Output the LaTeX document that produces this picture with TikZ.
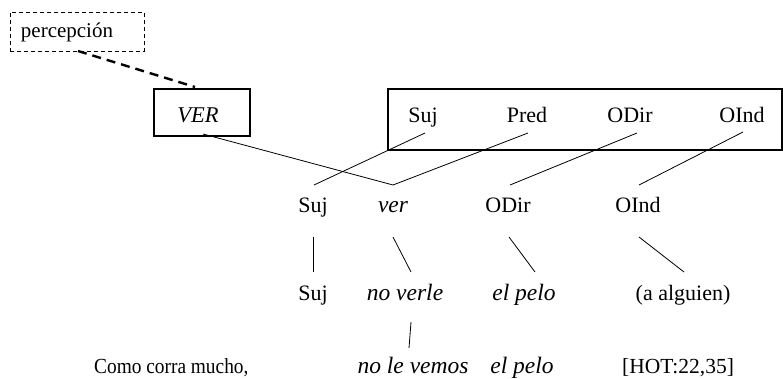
\documentclass[tikz,border=0pt]{standalone}
\usepackage{fontspec}
\setmainfont{Liberation Serif}
\begin{document}
\begin{tikzpicture}[x=1pt,y=-1pt,
  lbl/.style={inner sep=0pt,anchor=base,font=\fontsize{22}{26}\selectfont},
  ilbl/.style={lbl,font=\fontsize{23.5}{28}\selectfont\itshape},
  thin line/.style={line width=0.8pt},
  thickbox/.style={draw,line width=2.2pt},
]
\useasboundingbox (0,0) rectangle (783,378);
% boxes
\node[draw,dashed,line width=0.8pt,dash pattern=on 4pt off 3pt,minimum width=134pt,minimum height=39pt,inner sep=0pt,anchor=north west] (perc) at (10,12) {};
\node[lbl,font=\fontsize{21}{24}\selectfont] (perct) at (67,37) {percepción};
\node[thickbox,minimum width=96pt,minimum height=47pt,inner sep=0pt,anchor=north west] (ver) at (153,88) {};
\node[ilbl,font=\fontsize{22.5}{26}\selectfont\itshape] (vert) at (198,122) {VER};
\node[thickbox,minimum width=394pt,minimum height=61pt,inner sep=0pt,anchor=north west] (big) at (387,88) {};
\node[lbl] (bsuj) at (423,122) {Suj};
\node[lbl] (bpred) at (527,122) {Pred};
\node[lbl] (bodir) at (630,122) {ODir};
\node[lbl] (boind) at (742,122) {OInd};
% middle row
\node[lbl] (msuj) at (313,212) {Suj};
\node[ilbl] (mver) at (393,212) {ver};
\node[lbl] (modir) at (508,212) {ODir};
\node[lbl] (moind) at (638,212) {OInd};
% third row
\node[lbl] (tsuj) at (313,300) {Suj};
\node[ilbl] (tver) at (405,300) {no verle};
\node[ilbl] (tpelo) at (524,300) {el pelo};
\node[lbl] (tind) at (683,300) {(a alguien)};
% bottom row
\node[lbl,anchor=base west,font=\fontsize{21.5}{25}\selectfont] (como) at (94,373) {\scalebox{0.9}[1]{Como corra mucho,}};
\node[ilbl] (vemos) at (413,373) {no le vemos};
\node[ilbl] (bpelo) at (522,373) {el pelo};
\node[lbl,font=\fontsize{21.5}{25}\selectfont] (hot) at (678,373) {[HOT:22,35]};
% connector end points
\coordinate (p1) at (78,51);
\coordinate (p2) at (195,87);
\coordinate (v1) at (203,134);
\coordinate (apex) at (393,185);
\coordinate (s1) at (425,133);
\coordinate (s2) at (314,185);
\coordinate (pr1) at (528,133);
\coordinate (o1) at (637,133);
\coordinate (o2) at (510,185);
\coordinate (i1) at (743,132);
\coordinate (i2) at (639,185);
\coordinate (a1) at (313,237);
\coordinate (a2) at (313,272);
\coordinate (b1) at (393,237);
\coordinate (b2) at (411,272);
\coordinate (c1) at (509,237);
\coordinate (c2) at (535,272);
\coordinate (d1) at (639,237);
\coordinate (d2) at (684,272);
\coordinate (e1) at (411,322);
\coordinate (e2) at (409,348);
% connectors
\draw[line width=2.4pt,dash pattern=on 9pt off 6pt] (p1) -- (p2);
\draw[thin line] (v1) -- (apex) -- (pr1);
\draw[thin line] (s1) -- (s2);
\draw[thin line] (o1) -- (o2);
\draw[thin line] (i1) -- (i2);
\draw[thin line] (a1) -- (a2);
\draw[thin line] (b1) -- (b2);
\draw[thin line] (c1) -- (c2);
\draw[thin line] (d1) -- (d2);
\draw[thin line] (e1) -- (e2);
\end{tikzpicture}
\end{document}
